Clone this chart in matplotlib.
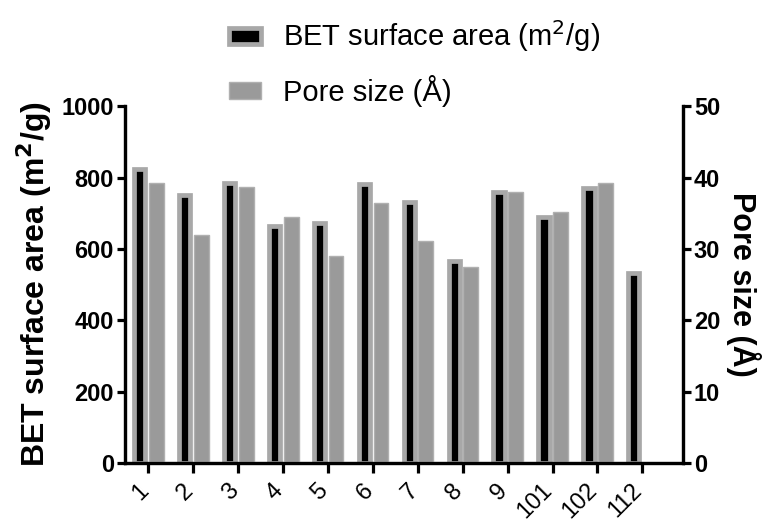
import numpy as np
import matplotlib.pyplot as plt
from matplotlib.transforms import ScaledTranslation

plt.rcParams['font.family'] = ['Liberation Sans', 'DejaVu Sans']

# Data
samples = ['1', '2', '3', '4', '5', '6', '7', '8', '9', '101', '102', '112']
bet_area = [825, 751, 784, 664, 672, 781, 731, 566, 760, 689, 772, 532]  # m2/g
pore_size = [39.2, 31.9, 38.7, 34.5, 29.0, 36.4, 31.1, 27.5, 38.0, 35.2, 39.3, np.nan]  # Angstrom

x = np.arange(len(samples))

fig = plt.figure(figsize=(7.62, 5.26), dpi=100)
ax = fig.add_axes([0.164, 0.12, 0.732, 0.678])
ax2 = ax.twinx()

b1 = ax.bar(x - 0.19, bet_area, width=0.25, color='black', edgecolor='#a8a8a8',
            linewidth=3.4, label='BET surface area (m$^2$/g)')
b2 = ax2.bar(x + 0.18, pore_size, width=0.33, color='#9a9a9a', edgecolor='#b0b0b0',
             linewidth=1.0, label='Pore size (Å)')

ax.set_xlim(-0.52, 11.9)
ax.set_ylim(0, 1000)
ax2.set_ylim(0, 50)
ax.set_yticks([0, 200, 400, 600, 800, 1000])
ax2.set_yticks([0, 10, 20, 30, 40, 50])
ax.set_xticks(x)
ax.set_xticklabels(samples, rotation=45, ha='right', rotation_mode='anchor', fontsize=17)

for a in (ax, ax2):
    a.spines['top'].set_visible(False)
    for s in ('left', 'right', 'bottom'):
        a.spines[s].set_linewidth(2.3)
    a.tick_params(width=2.3, length=6, labelsize=17, direction='out', pad=2)
ax.tick_params(axis='x', length=7, pad=3)
for lab in ax.get_yticklabels() + ax2.get_yticklabels():
    lab.set_fontweight('bold')

# shift the slanted labels a bit left, as in the original
shift = ScaledTranslation(-8 / 72, -2 / 72, fig.dpi_scale_trans)
for lab in ax.get_xticklabels():
    lab.set_transform(lab.get_transform() + shift)

ax.set_ylabel('BET surface area (m$^\\mathbf{2}$/g)', fontsize=23, fontweight='bold', labelpad=5)
ax2.set_ylabel('Pore size (Å)', fontsize=22, fontweight='bold', rotation=270, labelpad=29)

fig.legend(handles=[b1, b2], loc='upper left', bbox_to_anchor=(0.277, 0.998),
           frameon=False, fontsize=21, handlelength=1.1, handleheight=0.5,
           labelspacing=0.7, handletextpad=0.75, borderpad=0.1)

fig.savefig('out.png', dpi=100)
